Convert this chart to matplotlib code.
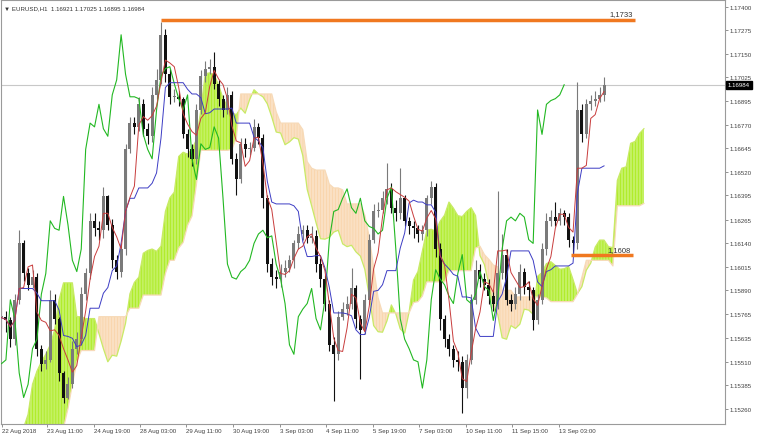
import numpy as np
import pandas as pd
import matplotlib
matplotlib.use("Agg")
import matplotlib.pyplot as plt
import matplotlib.transforms as mtrans

# EURUSD bars (3h aggregation of the H1 chart)
closes = [1.1575, 1.1573, 1.1563, 1.1584, 1.1614, 1.1598, 1.1592, 1.1596, 1.1558, 1.1550,
          1.1552, 1.1584, 1.1574, 1.1545, 1.1532, 1.1539, 1.1558, 1.1563, 1.1587, 1.1598,
          1.1626, 1.1622, 1.1621, 1.1639, 1.1624, 1.1605, 1.1599, 1.1611, 1.1664, 1.1678,
          1.1676, 1.1688, 1.1675, 1.1671, 1.1693, 1.1701, 1.1725, 1.1704, 1.1692, 1.1692,
          1.1691, 1.1672, 1.1664, 1.1659, 1.1685, 1.1703, 1.1707, 1.1708, 1.1699, 1.1691,
          1.1685, 1.1693, 1.1659, 1.1648, 1.1667, 1.1664, 1.1665, 1.1676, 1.1670, 1.1638,
          1.1603, 1.1596, 1.1595, 1.1599, 1.1601, 1.1605, 1.1614, 1.1619, 1.1621, 1.1617,
          1.1618, 1.1603, 1.1595, 1.1582, 1.1560, 1.1555, 1.1575, 1.1579, 1.1582, 1.1590,
          1.1574, 1.1568, 1.1584, 1.1616, 1.1631, 1.1632, 1.1638, 1.1643, 1.1633, 1.1630,
          1.1638, 1.1626, 1.1623, 1.1622, 1.1619, 1.1621, 1.1638, 1.1644, 1.1611, 1.1574,
          1.1563, 1.1558, 1.1552, 1.1551, 1.1537, 1.1552, 1.1584, 1.1600, 1.1595, 1.1592,
          1.1586, 1.1582, 1.1598, 1.1608, 1.1584, 1.1582, 1.1587, 1.1599, 1.1591, 1.1589,
          1.1573, 1.1584, 1.1611, 1.1626, 1.1628, 1.1626, 1.1630, 1.1628, 1.1616, 1.1614,
          1.1685, 1.1672, 1.1688, 1.1690, 1.1691, 1.1693, 1.16984]

highs = [1.1580, 1.1578, 1.1575, 1.1587, 1.1621, 1.1616, 1.1601, 1.1600, 1.1598, 1.1560,
         1.1557, 1.1589, 1.1587, 1.1575, 1.1546, 1.1543, 1.1562, 1.1567, 1.1591, 1.1601,
         1.1630, 1.1630, 1.1626, 1.1644, 1.1640, 1.1627, 1.1608, 1.1614, 1.1667, 1.1681,
         1.1681, 1.1692, 1.1691, 1.1678, 1.1697, 1.1707, 1.1732, 1.1728, 1.1707, 1.1696,
         1.1695, 1.1692, 1.1675, 1.1667, 1.1688, 1.1706, 1.1711, 1.1712, 1.1716, 1.1701,
         1.1693, 1.1697, 1.1695, 1.1662, 1.1670, 1.1670, 1.1668, 1.1680, 1.1678, 1.1672,
         1.1640, 1.1606, 1.1600, 1.1603, 1.1605, 1.1608, 1.1616, 1.1623, 1.1624, 1.1624,
         1.1623, 1.1621, 1.1606, 1.1597, 1.1584, 1.1564, 1.1578, 1.1583, 1.1586, 1.1601,
         1.1592, 1.1576, 1.1587, 1.1619, 1.1635, 1.1636, 1.1642, 1.1657, 1.1646, 1.1637,
         1.1654, 1.1640, 1.1628, 1.1626, 1.1624, 1.1624, 1.1640, 1.1647, 1.1646, 1.1614,
         1.1576, 1.1566, 1.1560, 1.1557, 1.1554, 1.1555, 1.1587, 1.1605, 1.1603, 1.1598,
         1.1595, 1.1589, 1.1642, 1.1619, 1.1611, 1.1587, 1.1591, 1.1603, 1.1601, 1.1594,
         1.1591, 1.1587, 1.1614, 1.1630, 1.1632, 1.1636, 1.1633, 1.1632, 1.1630, 1.1618,
         1.1700, 1.1688, 1.1691, 1.1693, 1.1695, 1.1697, 1.17025]

lows = [1.1569, 1.1567, 1.1559, 1.1560, 1.1582, 1.1594, 1.1589, 1.1590, 1.1554, 1.1546,
        1.1547, 1.1551, 1.1571, 1.1541, 1.1529, 1.1531, 1.1537, 1.1555, 1.1560, 1.1584,
        1.1595, 1.1618, 1.1616, 1.1617, 1.1621, 1.1601, 1.1595, 1.1596, 1.1608, 1.1662,
        1.1672, 1.1674, 1.1671, 1.1667, 1.1668, 1.1691, 1.1699, 1.1700, 1.1688, 1.1689,
        1.1687, 1.1670, 1.1660, 1.1655, 1.1656, 1.1683, 1.1700, 1.1704, 1.1696, 1.1687,
        1.1681, 1.1683, 1.1656, 1.1640, 1.1646, 1.1660, 1.1661, 1.1663, 1.1667, 1.1633,
        1.1599, 1.1592, 1.1590, 1.1591, 1.1596, 1.1599, 1.1601, 1.1611, 1.1616, 1.1614,
        1.1614, 1.1599, 1.1591, 1.1578, 1.1557, 1.1530, 1.1552, 1.1573, 1.1576, 1.1579,
        1.1569, 1.1542, 1.1566, 1.1582, 1.1614, 1.1628, 1.1630, 1.1635, 1.1630, 1.1626,
        1.1627, 1.1623, 1.1619, 1.1617, 1.1615, 1.1616, 1.1618, 1.1635, 1.1607, 1.1568,
        1.1559, 1.1554, 1.1548, 1.1546, 1.1524, 1.1532, 1.1550, 1.1582, 1.1591, 1.1589,
        1.1582, 1.1578, 1.1579, 1.1595, 1.1581, 1.1578, 1.1579, 1.1584, 1.1587, 1.1584,
        1.1568, 1.1571, 1.1582, 1.1608, 1.1623, 1.1623, 1.1624, 1.1624, 1.1612, 1.1608,
        1.1611, 1.1668, 1.1670, 1.1685, 1.1687, 1.1689, 1.16895]

# cloud at the left edge, where the history before the first bar is needed
span_a_early = [1.1505, 1.1507, 1.1510, 1.1513, 1.1515, 1.1516, 1.1523, 1.1539, 1.1546, 1.1551,
                1.1555, 1.1560, 1.1568, 1.1584, 1.1593, 1.1593, 1.1593, 1.1575, 1.1575, 1.1574,
                1.1574, 1.1574, 1.1566, 1.1558, 1.1551]
span_b_early = [1.1489, 1.1489, 1.1489, 1.1489, 1.1489, 1.1489, 1.1489, 1.1489, 1.1489, 1.1489,
                1.1491, 1.1494, 1.1499, 1.1510, 1.1516, 1.1526, 1.1539, 1.1551, 1.1557, 1.1557,
                1.1557, 1.1557, 1.1575, 1.1575, 1.1575]

time_labels = ["22 Aug 2018", "23 Aug 11:00", "24 Aug 19:00", "28 Aug 03:00", "29 Aug 11:00",
               "30 Aug 19:00", "3 Sep 03:00", "4 Sep 11:00", "5 Sep 19:00", "7 Sep 03:00",
               "10 Sep 11:00", "11 Sep 15:00", "13 Sep 03:00"]
time_pos = [0.1, 10.3, 20.9, 31.3, 41.6, 52.3, 62.9, 73.3, 83.9, 94.2, 104.9, 115.2, 125.8]
price_ticks = [1.17400, 1.17275, 1.17150, 1.17025, 1.16895, 1.16770, 1.16645, 1.16520, 1.16395,
               1.16265, 1.16140, 1.16015, 1.15890, 1.15765, 1.15635, 1.15510, 1.15385, 1.15260]

level_hi = 1.1733
level_lo = 1.1608

plt.rcParams["font.family"] = ["Liberation Sans", "DejaVu Sans"]

n = len(closes)
shift = 9
opens = [closes[0]] + closes[:-1]
h = pd.Series(highs)
l = pd.Series(lows)
tenkan = (h.rolling(3, min_periods=1).max() + l.rolling(3, min_periods=1).min()) / 2
kijun = (h.rolling(9, min_periods=1).max() + l.rolling(9, min_periods=1).min()) / 2
sb = (h.rolling(17, min_periods=1).max() + l.rolling(17, min_periods=1).min()) / 2
sa = (tenkan + kijun) / 2

span_a = np.full(n + shift, np.nan)
span_b = np.full(n + shift, np.nan)
span_a[shift:] = sa.values
span_b[shift:] = sb.values
span_a[:len(span_a_early)] = span_a_early
span_b[:len(span_b_early)] = span_b_early
xs = np.arange(n + shift)

fig = plt.figure(figsize=(7.8, 4.35), dpi=100)
ax = fig.add_axes([1 / 780, 10 / 435, 724 / 780, 424 / 435])

green_c = "#b0ec2c"
peach_c = "#f9d6ae"
plt.rcParams["hatch.linewidth"] = 0.9
ax.fill_between(xs, span_a, span_b, where=span_a >= span_b, interpolate=True,
                facecolor="none", edgecolor=green_c, hatch="|" * 11, linewidth=0, zorder=1)
ax.fill_between(xs, span_a, span_b, where=span_a < span_b, interpolate=True,
                facecolor="none", edgecolor=peach_c, hatch="|" * 11, linewidth=0, zorder=1)
ax.plot(xs, span_a, color="#c8ea66", lw=0.9, zorder=1.5)
ax.plot(xs, span_b, color="#f7dab8", lw=0.9, zorder=1.5)

# candles
x = np.arange(n)
o = np.array(opens)
c = np.array(closes)
bull = c >= o
for mask, col in ((bull, "#7a7a7a"), (~bull, "#111111")):
    ax.vlines(x[mask], np.array(lows)[mask], np.array(highs)[mask], color=col, lw=0.8, zorder=2)
    body = np.abs(c - o)[mask]
    body = np.maximum(body, 0.00003)
    ax.bar(x[mask], body, bottom=np.minimum(o, c)[mask], width=0.68, color=col,
           linewidth=0, zorder=2)

# lines
ax.plot(x[:-shift], c[shift:], color="#22b822", lw=0.8, zorder=3)
ax.plot(x, kijun, color="#3c3cc4", lw=0.7, zorder=3)
ax.plot(x, tenkan, color="#c83c3c", lw=0.7, zorder=3)

ax.axhline(closes[-1], color="#c8c8c8", lw=0.8, zorder=0.5)

ax.plot([36, 143], [level_hi, level_hi], color="#f07820", lw=2.5, zorder=4, solid_capstyle="butt")
ax.plot([128.5, 142.5], [level_lo, level_lo], color="#f07820", lw=2.5, zorder=4, solid_capstyle="butt")
ax.text(142.5, level_hi + 0.00012, "1,1733", fontsize=5.5, color="#333333", ha="right", va="bottom", zorder=5)
ax.text(142, level_lo + 0.00010, "1,1608", fontsize=5.5, color="#333333", ha="right", va="bottom", zorder=5)

ax.set_xlim(-0.11, 163.3)
ax.set_ylim(1.15179, 1.17435)

ax.yaxis.tick_right()
ax.set_yticks(price_ticks)
ax.set_yticklabels(["%.5f" % v for v in price_ticks])
ax.set_xticks(time_pos)
ax.set_xticklabels(time_labels)
for t in ax.get_xticklabels():
    t.set_horizontalalignment("left")
ax.tick_params(axis="y", direction="out", length=2, width=0.6, colors="#808080",
               labelcolor="#404040", labelsize=4.4, pad=1.5)
ax.tick_params(axis="x", direction="out", length=2, width=0.6, colors="#808080",
               labelcolor="#404040", labelsize=4.4, pad=0.8)
for s in ax.spines.values():
    s.set_color("#9a9a9a")
    s.set_linewidth(0.8)

# current price box
trans = mtrans.blended_transform_factory(ax.transAxes, ax.transData)
ax.text(1.004, closes[-1], "%.5f" % closes[-1], transform=trans, fontsize=4.4, color="white",
        va="center", ha="left", zorder=6,
        bbox=dict(boxstyle="square,pad=0.25", facecolor="black", edgecolor="black"))

ax.text(0.004, 0.988, "\u25bc EURUSD,H1  1.16921 1.17025 1.16895 1.16984", transform=ax.transAxes,
        fontsize=4.4, color="#333333", va="top", ha="left")

fig.savefig("out.png", dpi=100)
